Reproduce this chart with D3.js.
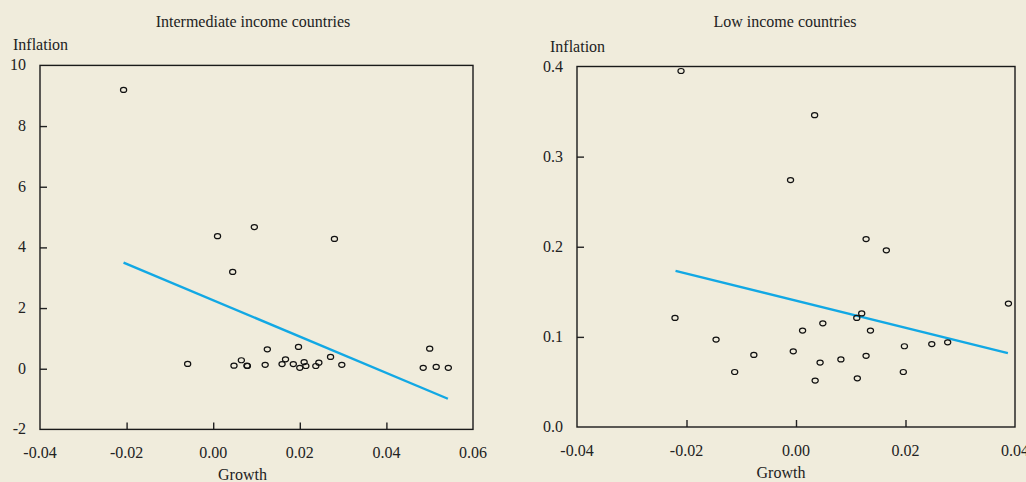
<!DOCTYPE html>
<html>
<head>
<meta charset="utf-8">
<script src="https://cdn.jsdelivr.net/npm/d3@7"></script>
<style>
  body { margin: 0; background: #f0ecdc; }
  svg { display: block; }
  text { font-family: "Liberation Serif", "Times New Roman", serif; fill: #222; font-size: 16px; }
</style>
</head>
<body>
<script>
// intermediate income countries: growth vs inflation
var midGrowth = [-0.0207, 0.0010, 0.0095, 0.0045, 0.0280, -0.0059, 0.0048, 0.0065, 0.0078, 0.0079,
  0.0120, 0.0125, 0.0159, 0.0167, 0.0185, 0.0197, 0.0200, 0.0210, 0.0214, 0.0237,
  0.0244, 0.0271, 0.0297, 0.0485, 0.0500, 0.0515, 0.0543];
var midInflation = [9.19, 4.37, 4.67, 3.19, 4.28, 0.16, 0.10, 0.28, 0.10, 0.09,
  0.13, 0.64, 0.155, 0.31, 0.155, 0.72, 0.03, 0.22, 0.09, 0.09,
  0.20, 0.39, 0.13, 0.03, 0.66, 0.06, 0.03];
var midFitX = [-0.0207, 0.0542];
var midFitY = [3.50, -0.99];

// low income countries
var lowGrowth = [-0.0210, 0.0034, -0.0010, -0.0221, -0.0146, -0.0112, -0.0077, 0.0128, 0.0165, 0.0388,
  0.0120, 0.0111, 0.0012, 0.0049, 0.0136, -0.0005, 0.0044, 0.0082, 0.0128, 0.0198,
  0.0248, 0.0277, 0.0035, 0.0112, 0.0196];
var lowInflation = [0.395, 0.346, 0.274, 0.121, 0.097, 0.061, 0.080, 0.2085, 0.196, 0.137,
  0.126, 0.121, 0.107, 0.115, 0.107, 0.084, 0.0715, 0.075, 0.079, 0.0896,
  0.092, 0.094, 0.0515, 0.054, 0.061];
var lowFitX = [-0.0220, 0.0387];
var lowFitY = [0.1733, 0.0819];

var midXTicks = ["-0.04", "-0.02", "0.00", "0.02", "0.04", "0.06"];
var midYTicks = ["-2", "0", "2", "4", "6", "8", "10"];
var lowXTicks = ["-0.04", "-0.02", "0.00", "0.02", "0.04"];
var lowYTicks = ["0.0", "0.1", "0.2", "0.3", "0.4"];

var svg = d3.select("body").append("svg")
  .attr("width", 1026)
  .attr("height", 482);

function panel(p) {
  var x = d3.scaleLinear().domain(p.xDomain).range([p.left, p.right]);
  var y = d3.scaleLinear().domain(p.yDomain).range([p.bottom, p.top]);
  var g = svg.append("g");
  var xv = p.xTicks.map(Number), yv = p.yTicks.map(Number);

  // inner ticks only, pointing into the frame
  g.append("g")
    .attr("transform", `translate(0, ${p.bottom})`)
    .call(d3.axisBottom(x).tickValues(xv.slice(1, -1)).tickSize(-7).tickFormat(""))
    .call(a => a.select(".domain").remove())
    .selectAll("line").attr("stroke", "#222").attr("stroke-width", 1.4);

  g.append("g")
    .attr("transform", `translate(${p.left}, 0)`)
    .call(d3.axisLeft(y).tickValues(yv.slice(1, -1)).tickSize(-7).tickFormat(""))
    .call(a => a.select(".domain").remove())
    .selectAll("line").attr("stroke", "#222").attr("stroke-width", 1.4);

  g.append("rect")
    .attr("x", p.left).attr("y", p.top)
    .attr("width", p.right - p.left).attr("height", p.bottom - p.top)
    .attr("fill", "none").attr("stroke", "#1a1a1a").attr("stroke-width", 1.4);

  g.selectAll(".xl").data(p.xTicks).enter().append("text")
    .attr("x", d => x(+d))
    .attr("y", p.bottom + 29)
    .attr("text-anchor", "middle")
    .text(d => d);

  g.selectAll(".yl").data(p.yTicks).enter().append("text")
    .attr("x", p.left - 14)
    .attr("y", d => y(+d) + 5)
    .attr("text-anchor", "end")
    .text(d => d);

  g.append("text").attr("x", p.titleX).attr("y", 27)
    .attr("text-anchor", "middle").text(p.title);
  g.append("text").attr("x", p.left - 27).attr("y", p.top - 15)
    .text("Inflation");
  g.append("text").attr("x", p.growthX).attr("y", p.bottom + 51)
    .attr("text-anchor", "middle").text("Growth");

  g.append("line")
    .attr("x1", x(p.fitX[0])).attr("y1", y(p.fitY[0]))
    .attr("x2", x(p.fitX[1])).attr("y2", y(p.fitY[1]))
    .attr("stroke", "#12a8e4").attr("stroke-width", 2.4);

  g.selectAll("ellipse").data(p.gx).enter().append("ellipse")
    .attr("cx", d => x(d))
    .attr("cy", (d, i) => y(p.gy[i]))
    .attr("rx", 3.1).attr("ry", 2.5)
    .attr("fill", "none").attr("stroke", "#111").attr("stroke-width", 1.2);
}

panel({
  left: 40, right: 473, top: 65.4, bottom: 429.4,
  xDomain: [-0.04, 0.06], yDomain: [-2, 10],
  xTicks: midXTicks, yTicks: midYTicks,
  gx: midGrowth, gy: midInflation, fitX: midFitX, fitY: midFitY,
  title: "Intermediate income countries", titleX: 253, growthX: 242.5
});

panel({
  left: 577, right: 1015, top: 66.5, bottom: 427,
  xDomain: [-0.04, 0.04], yDomain: [0, 0.4],
  xTicks: lowXTicks, yTicks: lowYTicks,
  gx: lowGrowth, gy: lowInflation, fitX: lowFitX, fitY: lowFitY,
  title: "Low income countries", titleX: 785, growthX: 781
});
</script>
</body>
</html>
